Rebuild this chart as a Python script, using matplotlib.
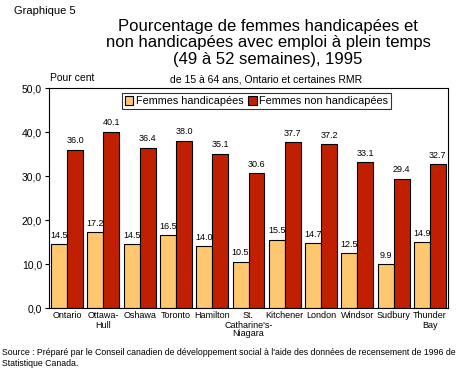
import matplotlib
matplotlib.use("Agg")
import matplotlib.pyplot as plt
import matplotlib.transforms as mtransforms
import numpy as np

plt.rcParams["font.family"] = ["Liberation Sans", "DejaVu Sans"]

cities = ["Ontario", "Ottawa-\nHull", "Oshawa", "Toronto", "Hamilton",
          "St.\nCatharine's-\nNiagara", "Kitchener", "London", "Windsor",
          "Sudbury", "Thunder\nBay"]
handicapees = [14.5, 17.2, 14.5, 16.5, 14.0, 10.5, 15.5, 14.7, 12.5, 9.9, 14.9]
non_handicapees = [36.0, 40.1, 36.4, 38.0, 35.1, 30.6, 37.7, 37.2, 33.1, 29.4, 32.7]
yticks = [0, 10, 20, 30, 40, 50]
ytick_labels = ["0,0", "10,0", "20,0", "30,0", "40,0", "50,0"]

yellow = "#FFC870"
red = "#C02000"

fig = plt.figure(figsize=(4.74, 3.71), dpi=100)
ax = fig.add_axes([49 / 474, 1 - 308 / 371, 399 / 474, 220 / 371])

x = np.arange(len(cities))
w = 0.44
b1 = ax.bar(x - w / 2, handicapees, w, color=yellow, edgecolor="black",
            linewidth=0.8, label="Femmes handicapées")
b2 = ax.bar(x + w / 2, non_handicapees, w, color=red, edgecolor="black",
            linewidth=0.8, label="Femmes non handicapées")

for rects, vals in ((b1, handicapees), (b2, non_handicapees)):
    for r, v in zip(rects, vals):
        ax.text(r.get_x() + r.get_width() / 2, v + 1.0, f"{v:.1f}",
                ha="center", va="bottom", fontsize=6.5)

ax.set_xlim(-0.5, len(cities) - 0.5)
ax.set_ylim(0, 50)
ax.set_yticks(yticks)
ax.set_yticklabels(ytick_labels, fontsize=7.5)
ax.set_xticks(x)
ax.set_xticklabels([""] * len(cities))
ax.tick_params(axis="x", length=0)
ax.tick_params(axis="y", length=3, width=0.8, pad=2)
for s in ax.spines.values():
    s.set_linewidth(0.8)

# x labels drawn one line at a time so that long lines don't crowd neighbours
trans = mtransforms.blended_transform_factory(ax.transData, fig.transFigure)
for xi, name in zip(x, cities):
    for k, line in enumerate(name.split("\n")):
        ax.text(xi, 1 - (316 + 9 * k) / 371, line, transform=trans,
                ha="center", va="center", fontsize=6.5)

leg = ax.legend(loc="upper center", ncol=2, fontsize=7.8, frameon=True,
                fancybox=False, edgecolor="black", handlelength=0.8,
                handleheight=0.8, handletextpad=0.25, columnspacing=0.4,
                borderpad=0.25, bbox_to_anchor=(0.52, 1.0))
leg.get_frame().set_linewidth(0.8)

fig.text(14 / 474, 1 - 11 / 371, "Graphique 5", fontsize=8, va="center")
fig.text(268 / 474, 1 - 43 / 371,
         "Pourcentage de femmes handicapées et\n"
         "non handicapées avec emploi à plein temps\n"
         "(49 à 52 semaines), 1995",
         ha="center", va="center", fontsize=12.0, linespacing=1.15)
fig.text(266 / 474, 1 - 80 / 371, "de 15 à 64 ans, Ontario et certaines RMR",
         ha="center", va="center", fontsize=7.5)
fig.text(50 / 474, 1 - 78 / 371, "Pour cent", fontsize=7.5, va="center")
fig.text(2 / 474, 1 - 358 / 371,
         "Source : Préparé par le Conseil canadien de développement social à l'aide des données de recensement de 1996 de\n"
         "Statistique Canada.",
         fontsize=6.3, va="center", linespacing=1.15)

fig.savefig("out.png", dpi=100)
